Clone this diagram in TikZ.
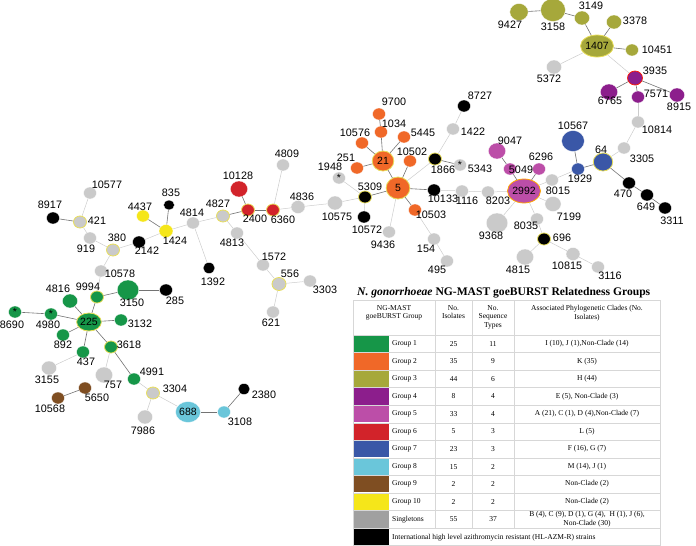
\documentclass[tikz,border=0pt]{standalone}
\usepackage{fontspec}
\setmainfont{Liberation Sans}
\newfontfamily\tms{Liberation Serif}
\usetikzlibrary{shapes.geometric}
\definecolor{grp1}{RGB}{22,150,72}
\definecolor{grp2}{RGB}{240,104,40}
\definecolor{grp3}{RGB}{166,168,59}
\definecolor{grp4}{RGB}{140,30,140}
\definecolor{grp5}{RGB}{188,78,168}
\definecolor{grp6}{RGB}{210,35,42}
\definecolor{grp7}{RGB}{58,87,167}
\definecolor{grp8}{RGB}{106,198,218}
\definecolor{grp9}{RGB}{127,78,34}
\definecolor{grp10}{RGB}{245,230,26}
\definecolor{sgl}{RGB}{202,202,202}
\definecolor{sglsw}{RGB}{160,160,160}
\definecolor{ringc}{RGB}{232,222,90}
\definecolor{gridc}{RGB}{215,215,215}
\newcommand\nd[5]{\node[nd,minimum width=1.08*#4pt,minimum height=#4pt,fill=#5] (n#1) at (#2,#3) {};}
\newcommand\ndr[5]{\node[nd,ring,minimum width=1.08*#4pt,minimum height=#4pt,fill=#5] (n#1) at (#2,#3) {};}
\newcommand\ndt[6]{\node[nd,minimum width=1.08*#4pt,minimum height=#4pt,fill=#5,#6] (n#1) at (#2,#3) {#1};}
\newcommand\nds[5]{\node[nd,minimum width=1.08*#4pt,minimum height=#4pt,fill=#5] (n#1) at (#2,#3) {*};}
\newcommand\lb[3]{\node[lbl] (t#1) at (#2,#3) {#1};}
\begin{document}
\begin{tikzpicture}[x=1pt,y=-1pt,
  nd/.style={ellipse,inner sep=0pt,draw=white,line width=0.3pt,font=\fontsize{10.5}{11}\selectfont},
  ring/.style={draw=ringc,line width=0.8pt},
  lbl/.style={inner sep=0pt,font=\fontsize{10.8}{12}\selectfont},
  strong/.style={draw=black!55,line width=0.6pt},
  weak/.style={draw=black!20,line width=0.5pt},
  tbl/.style={inner sep=0pt,font=\tms\fontsize{7.5}{8.8}\selectfont,align=center},
  gridl/.style={draw=gridc,line width=0.5pt}]
\useasboundingbox (0,0) rectangle (696,546);
% ---------- nodes ----------
\nd{9427}{519}{12}{17}{grp3}
\nd{3158}{553}{10}{23}{grp3}
\nd{3149}{582}{18}{14}{grp3}
\nd{3378}{614}{22}{14}{grp3}
\ndt{1407}{597}{46}{22}{grp3}{ring}
\nd{10451}{632}{50}{12}{grp3}
\nd{5372}{554}{67}{14}{sgl}
\node[nd,draw=red!80!orange,line width=0.7pt,minimum width=15pt,minimum height=14pt,fill=grp4] (n3935) at (635,78) {};
\nd{6765}{609}{92}{16}{grp4}
\nd{7571}{638}{97}{12}{grp4}
\nd{8915}{677}{95}{14}{grp4}
\nd{10814}{638}{122}{12}{sgl}
\nd{3305}{624}{148}{12}{sgl}
\nd{10567}{573}{141}{21}{grp7}
\ndr{64}{603}{162}{18}{grp7}
\nd{1929}{578}{169}{12}{grp7}
\nd{470}{629}{183}{12}{black}
\nd{649}{647}{195}{12}{black}
\nd{3311}{665}{208}{12}{black}
\nd{8015}{552}{180}{12}{sgl}
\nd{9047}{497}{151}{16}{grp5}
\nd{5049}{510}{169}{12}{grp5}
\nd{6296}{539}{169}{12}{grp5}
\node[nd,draw=orange!70!yellow,line width=0.8pt,minimum width=26pt,minimum height=24pt,fill=grp5] (n2992) at (524,191) {2992};
\nd{7199}{553}{204}{15}{sgl}
\nd{8035}{537}{219}{12}{sgl}
\nd{9368}{497}{223}{20}{sgl}
\nd{4815}{525}{257}{16}{sgl}
\nd{10815}{573}{254}{13}{sgl}
\nd{3116}{598}{267}{12}{sgl}
\nd{1116}{462}{191}{12}{sgl}
\nd{8203}{488}{192}{12}{sgl}
\nd{1422}{453}{129}{12}{sgl}
\nds{5343}{460}{165}{12}{sgl}
\nd{8727}{464}{106}{12}{black}
\ndr{1866}{435}{159}{12}{black}
\nd{10133}{434}{190}{12}{black}
\ndr{696}{544}{239}{12}{black}
\ndr{5309}{365}{197}{12}{black}
\nd{10572}{364}{217}{12}{black}
\nd{9700}{379}{114}{12}{grp2}
\nd{1034}{381}{132}{12}{grp2}
\nd{10576}{362}{143}{12}{grp2}
\nd{5445}{404}{137}{12}{grp2}
\ndt{21}{383}{161}{20}{grp2}{ring}
\nd{251}{357}{168}{12}{grp2}
\nd{10502}{410}{161}{12}{grp2}
\ndt{5}{398}{188}{22}{grp2}{ring}
\nd{10503}{415}{210}{12}{grp2}
\nd{9436}{389}{232}{12}{sgl}
\nd{154}{434}{239}{12}{sgl}
\nd{495}{447}{261}{12}{sgl}
\nds{1948}{339}{178}{12}{sgl}
\nd{10575}{335}{203}{14}{sgl}
\nd{4836}{298}{207}{13}{sgl}
\nd{4809}{283}{165}{12}{sgl}
\nd{10128}{239}{189}{16}{grp6}
\ndr{2400}{248}{210}{12}{grp6}
\ndr{6360}{273}{210}{12}{grp6}
\ndr{4827}{223}{216}{12}{sgl}
\nd{4814}{193}{223}{12}{sgl}
\nd{4813}{237}{233}{12}{sgl}
\nd{1572}{263}{265}{12}{sgl}
\ndr{556}{279}{284}{13}{sgl}
\nd{3303}{310}{281}{12}{sgl}
\nd{621}{273}{312}{12}{sgl}
\nd{1424}{166}{231}{13}{grp10}
\nd{4437}{143}{216}{12}{grp10}
\nd{835}{169}{205}{10}{black}
\nd{1392}{209}{268}{11}{black}
\nd{2142}{139}{242}{12}{black}
\nd{8917}{53}{218}{12}{black}
\nd{285}{166}{290}{12}{black}
\nd{2380}{244}{389}{11}{black}
\nd{10577}{90}{193}{12}{sgl}
\ndr{421}{80}{222}{12}{sgl}
\nd{919}{90}{238}{12}{sgl}
\ndr{380}{113}{250}{12}{sgl}
\nd{10578}{101}{271}{12}{sgl}
\nd{3155}{49}{368}{14}{sgl}
\nd{757}{104}{375}{16}{sgl}
\ndr{3304}{153}{393}{12}{sgl}
\nd{7986}{145}{417}{14}{sgl}
\nd{4816}{70}{301}{14}{grp1}
\ndr{9994}{97}{297}{12}{grp1}
\nd{3150}{128}{290}{20}{grp1}
\nds{8690}{15}{312}{12}{grp1}
\nds{4980}{51}{314}{12}{grp1}
\ndt{225}{89}{322}{18}{grp1}{ring}
\nd{3132}{121}{320}{12}{grp1}
\nd{892}{63}{335}{12}{grp1}
\nd{437}{83}{352}{12}{grp1}
\ndr{3618}{111}{347}{12}{grp1}
\nd{4991}{134}{379}{12}{grp1}
\nd{10568}{58}{398}{12}{grp9}
\nd{5650}{85}{388}{12}{grp9}
\node[nd,minimum width=25pt,minimum height=21pt,fill=grp8] (n688) at (188,412) {688};
\nd{3108}{224}{412}{12}{grp8}
% ---------- edges ----------
\foreach \a/\b in {1407/5372,1407/3935,7571/10814,10814/3305,3305/64,1929/8015,8015/2992,2992/8203,8203/1116,1116/10133,2992/9368,2992/7199,2992/8035,8035/696,696/4815,696/10815,10815/3116,5/1866,1866/1422,1422/8727,5/9436,10503/154,154/495,5309/1948,5309/10575,5309/10572,10575/4836,4836/6360,6360/4809,4827/4814,4827/4813,4813/1572,1572/556,556/3303,556/621,4814/1424,4814/1392,1424/2142,2142/380,380/919,919/421,421/10577,380/10578,10578/9994,437/3155,3618/757,4991/3304,3304/7986,3304/688}
  \draw[weak] (n\a) -- (n\b);
\foreach \a/\b in {9427/3158,3158/3149,3149/1407,3378/1407,1407/10451,3935/6765,3935/7571,3935/8915,10567/1929,1929/64,64/470,470/649,649/3311,5049/9047,5049/2992,2992/6296,21/1034,1034/9700,21/10576,21/251,21/5445,21/5,5/10502,5/10503,5/5309,5/10133,1866/5343,10128/2400,2400/6360,4827/2400,1424/4437,1424/835,4980/8690,4980/225,225/892,225/437,225/3132,225/3618,225/4816,225/9994,9994/3150,3150/285,3618/4991,421/8917,10568/5650,688/3108,3108/2380}
  \draw[strong] (n\a) -- (n\b);
% ---------- labels ----------
\lb{9427}{510}{25} \lb{3158}{553}{27} \lb{3149}{591}{6} \lb{3378}{635}{21}
\lb{10451}{657}{50} \lb{5372}{549}{79} \lb{3935}{655}{71} \lb{6765}{610}{101}
\lb{7571}{656}{94} \lb{8915}{679}{107} \lb{10814}{657}{130} \lb{10567}{573}{126}
\lb{64}{601}{150} \lb{1929}{580}{179} \lb{3305}{642}{159} \lb{8015}{558}{191}
\lb{470}{623}{194} \lb{649}{646}{207} \lb{3311}{672}{221} \lb{7199}{569}{217}
\lb{8035}{526}{226} \lb{9368}{491}{236} \lb{696}{562}{238} \lb{1116}{467}{201}
\lb{8203}{498}{201} \lb{9047}{510}{141} \lb{5049}{521}{170} \lb{6296}{541}{157}
\lb{5343}{480}{169} \lb{1866}{443}{170} \lb{10133}{443}{199} \lb{8727}{480}{96}
\lb{1422}{473}{132} \lb{4815}{518}{270} \lb{10815}{567}{266} \lb{3116}{610}{276}
\lb{154}{426}{249} \lb{495}{437}{270} \lb{9436}{383}{245} \lb{9700}{394}{102}
\lb{1034}{394}{124} \lb{10576}{355}{133} \lb{5445}{423}{133} \lb{251}{346}{158}
\lb{10502}{412}{152} \lb{5309}{370}{187} \lb{10572}{367}{230} \lb{10503}{431}{215}
\lb{1948}{330}{167} \lb{10575}{337}{217} \lb{4836}{302}{197} \lb{4809}{287}{154}
\lb{10128}{238}{176} \lb{2400}{255}{219} \lb{6360}{283}{220} \lb{4827}{218}{204}
\lb{4814}{192}{213} \lb{4813}{232}{243} \lb{1424}{175}{241} \lb{835}{171}{193}
\lb{1392}{213}{282} \lb{1572}{274}{257} \lb{556}{290}{274} \lb{3303}{325}{290}
\lb{621}{271}{323} \lb{285}{175}{301} \lb{10577}{107}{185} \lb{8917}{50}{205}
\lb{421}{97}{221} \lb{919}{86}{249} \lb{380}{117}{238} \lb{4437}{140}{207}
\lb{2142}{147}{251} \lb{10578}{120}{274} \lb{4816}{58}{289} \lb{9994}{88}{287}
\lb{3150}{132}{303} \lb{8690}{12}{325} \lb{4980}{48}{325} \lb{3132}{140}{324}
\lb{892}{63}{345} \lb{437}{86}{362} \lb{3618}{129}{345} \lb{3155}{47}{380}
\lb{757}{113}{385} \lb{4991}{152}{372} \lb{10568}{50}{409} \lb{5650}{97}{398}
\lb{3304}{175}{389} \lb{7986}{143}{431} \lb{3108}{240}{422} \lb{2380}{264}{395}
% ---------- table ----------
\node[inner sep=0pt,font=\tms\bfseries\fontsize{11.6}{13}\selectfont,anchor=west] (title) at (357,293) {\textit{N. gonorrhoeae} NG-MAST goeBURST Relatedness Groups};
\foreach \i/\c in {1/grp1,2/grp2,3/grp3,4/grp4,5/grp5,6/grp6,7/grp7,8/grp8,9/grp9,10/grp10,11/sglsw,12/black}{
  \pgfmathsetmacro\yt{335+(\i-1)*17.55}
  \fill[\c] (353,\yt+0.5) rectangle (389,\yt+17.05);
}
\foreach \i in {0,...,12}{
  \pgfmathsetmacro\yt{335+\i*17.55}
  \draw[gridl] (353,\yt) -- (660,\yt);
}
\draw[gridl] (353,300) -- (660,300);
\draw[gridl] (353,300) -- (353,545.6);
\draw[gridl] (660,300) -- (660,545.6);
\foreach \xx in {435,472,514} \draw[gridl] (\xx,300) -- (\xx,528.05);
\node[tbl,anchor=north] (h1) at (394,305) {NG-MAST\\goeBURST Group};
\node[tbl,anchor=north] (h2) at (453.5,305) {No.\\Isolates};
\node[tbl,anchor=north] (h3) at (493,305) {No.\\Sequence\\Types};
\node[tbl,anchor=north] (h4) at (587,305) {Associated Phylogenetic Clades (No.\\Isolates)};
\foreach \i/\g/\ni/\ns/\cl in {1/Group 1/25/11/{I (10), J (1),Non-Clade (14)},
  2/Group 2/35/9/{K (35)}, 3/Group 3/44/6/{H (44)}, 4/Group 4/8/4/{E (5), Non-Clade (3)},
  5/Group 5/33/4/{A (21), C (1), D (4),Non-Clade (7)}, 6/Group 6/5/3/{L (5)},
  7/Group 7/23/3/{F (16), G (7)}, 8/Group 8/15/2/{M (14), J (1)},
  9/Group 9/2/2/{Non-Clade (2)}, 10/Group 10/2/2/{Non-Clade (2)},
  11/Singletons/55/37/{B (4), C (9), D (1), G (4),\ \ H (1), J (6),\\Non-Clade (30)}}{
  \pgfmathsetmacro\yc{335+(\i-0.5)*17.55}
  \node[tbl,anchor=west] (g\i) at (392,\yc) {\g};
  \node[tbl] (i\i) at (453.5,\yc) {\ni};
  \node[tbl] (s\i) at (493,\yc) {\ns};
  \node[tbl] (c\i) at (587,\yc) {\cl};
}
\node[tbl,anchor=west] (g12) at (392,537.3) {International high level azithromycin resistant (HL-AZM-R) strains};
\end{tikzpicture}
\end{document}
